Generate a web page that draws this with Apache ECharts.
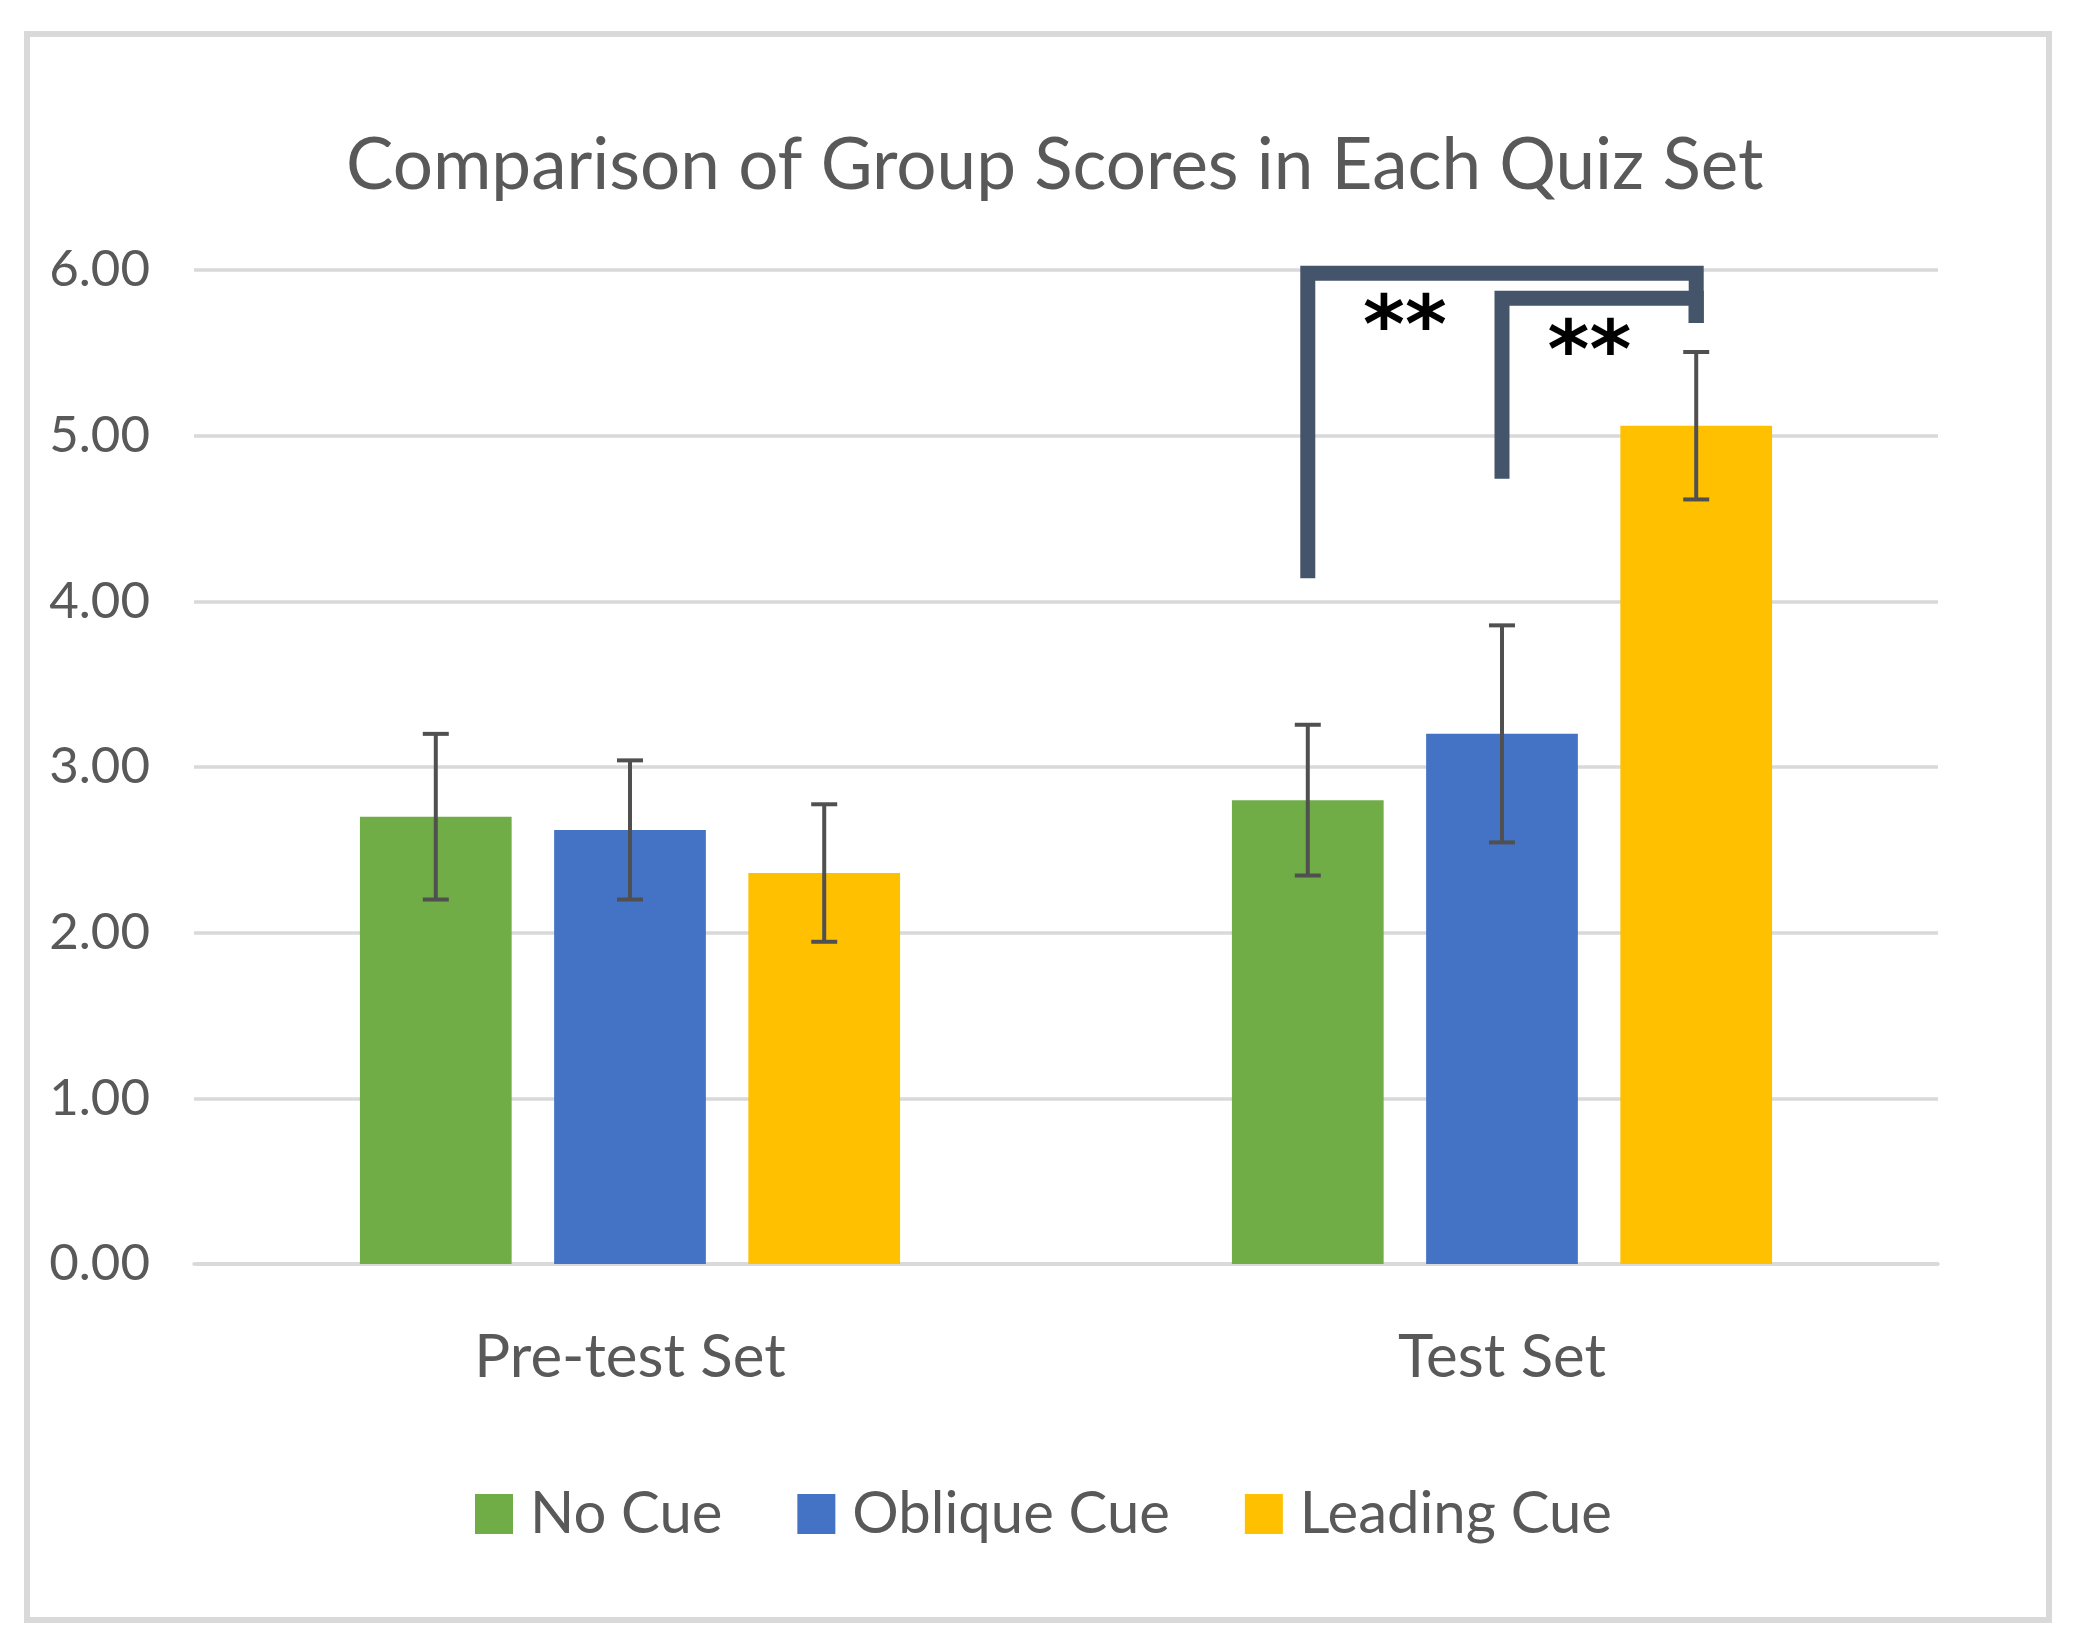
<!DOCTYPE html>
<html>
<head>
<meta charset="utf-8">
<script src="https://cdn.jsdelivr.net/npm/echarts@6/dist/echarts.min.js"></script>
<style>
html,body{margin:0;padding:0;background:#fff;}
#chart{width:2073px;height:1650px;}
</style>
</head>
<body>
<div id="chart"></div>
<script>
// ---- data ----
const categories = ['Pre-test Set', 'Test Set'];
const seriesNames = ['No Cue', 'Oblique Cue', 'Leading Cue'];
const noCue = [2.70, 2.80];
const obliqueCue = [2.62, 3.20];
const leadingCue = [2.36, 5.06];
const noCueErr = [0.50, 0.455];
const obliqueCueErr = [0.42, 0.655];
const leadingCueErr = [0.415, 0.445];
const yMin = 0, yMax = 6, yStep = 1;
// significance brackets (test set): series indices, bracket top value, leg end values, label position
const bracketCategory = [1, 1];
const bracketFrom = [0, 1];
const bracketTo = [2, 2];
const bracketTop = [5.98, 5.83];
const bracketFromEnd = [4.14, 4.74];
const bracketToEnd = [5.68, 5.68];
const bracketLabel = ['**', '**'];
const bracketLabelPos = [0.5, 1.45];
const bracketLabelValue = [5.63, 5.48];

// ---- style ----
const colors = ['#70AD47', '#4472C4', '#FFC000'];
const FONT = 'Lato';
const TEXT = '#595959';
const BAR_W = 0.174, BAR_GAP = 0.28;

function offsetFor(i, band) { return (i - 1) * BAR_W * (1 + BAR_GAP) * band; }

const values = [noCue, obliqueCue, leadingCue];
const errs = [noCueErr, obliqueCueErr, leadingCueErr];

const barSeries = seriesNames.map((n, i) => ({
  name: n, type: 'bar', data: values[i],
  barWidth: (BAR_W * 100) + '%', barGap: (BAR_GAP * 100) + '%',
  itemStyle: { color: colors[i] }, z: 2
}));

const errSeries = seriesNames.map((n, i) => ({
  name: n + ' error', type: 'custom', z: 3, clip: false,
  data: categories.map((c, k) => [k, values[i][k] - errs[i][k], values[i][k] + errs[i][k]]),
  encode: { x: 0, y: [1, 2] },
  renderItem: function (params, api) {
    const band = api.size([1, 0])[0];
    const lo = api.coord([api.value(0), api.value(1)]);
    const hi = api.coord([api.value(0), api.value(2)]);
    const x = lo[0] + offsetFor(i, band);
    const cap = 13;
    const st = { stroke: '#505050', lineWidth: 4 };
    return { type: 'group', children: [
      { type: 'line', shape: { x1: x, y1: lo[1], x2: x, y2: hi[1] }, style: st },
      { type: 'line', shape: { x1: x - cap, y1: lo[1], x2: x + cap, y2: lo[1] }, style: st },
      { type: 'line', shape: { x1: x - cap, y1: hi[1], x2: x + cap, y2: hi[1] }, style: st }
    ]};
  }
}));

const bracketSeries = {
  name: 'significance', type: 'custom', z: 4, clip: false,
  data: bracketFrom.map((f, k) => [bracketCategory[k], bracketTop[k], f, bracketTo[k], bracketFromEnd[k], bracketToEnd[k], bracketLabelPos[k], bracketLabelValue[k]]),
  encode: { x: 0, y: 1 },
  renderItem: function (params, api) {
    const band = api.size([1, 0])[0];
    const cat = api.value(0);
    const cx = api.coord([cat, 0])[0];
    const xf = cx + offsetFor(api.value(2), band);
    const xt = cx + offsetFor(api.value(3), band);
    const yTop = api.coord([cat, api.value(1)])[1];
    const yF = api.coord([cat, api.value(4)])[1];
    const yT = api.coord([cat, api.value(5)])[1];
    const lx = cx + offsetFor(api.value(6), band);
    const ly = api.coord([cat, api.value(7)])[1];
    return { type: 'group', children: [
      { type: 'polyline', shape: { points: [[xf, yF], [xf, yTop], [xt, yTop], [xt, yT]] },
        style: { stroke: '#44546A', lineWidth: 15, fill: null, lineJoin: 'miter', lineCap: 'butt' } },
      { type: 'text', x: lx, y: ly, style: { text: bracketLabel[params.dataIndex], fill: '#000',
        font: 'bold 80px "DejaVu Sans"', align: 'center', verticalAlign: 'middle' } }
    ]};
  }
};

const chart = echarts.init(document.getElementById('chart'), null, { renderer: 'canvas' });
chart.setOption({
  backgroundColor: '#fff',
  animation: false,
  color: colors,
  title: {
    text: 'Comparison of Group Scores in Each Quiz Set',
    left: 346, top: 131, padding: 0,
    textStyle: { fontFamily: FONT, fontSize: 71, fontWeight: 'normal', color: TEXT }
  },
  legend: {
    data: seriesNames, left: 475, top: 1485, padding: 0, icon: 'rect',
    itemWidth: 38, itemHeight: 40, itemGap: 75,
    textStyle: { fontFamily: FONT, fontSize: 58, lineHeight: 40, color: TEXT, padding: [0, 0, 0, 12] }
  },
  grid: { left: 194, right: 135, top: 270, bottom: 386, containLabel: false },
  xAxis: {
    type: 'category', data: categories,
    axisLine: { show: true, lineStyle: { color: '#d9d9d9', width: 3.5 } },
    axisTick: { show: false },
    axisLabel: { fontFamily: FONT, fontSize: 60, color: TEXT, margin: 64 }
  },
  yAxis: {
    type: 'value', min: yMin, max: yMax, interval: yStep,
    axisLine: { show: false }, axisTick: { show: false },
    splitLine: { lineStyle: { color: '#d9d9d9', width: 3.5 } },
    axisLabel: { fontFamily: FONT, fontSize: 51, color: TEXT, margin: 44, formatter: v => v.toFixed(2) }
  },
  graphic: [{
    type: 'rect', silent: true, z: -10,
    shape: { x: 27, y: 34, width: 2022, height: 1586 },
    style: { fill: null, stroke: '#d9d9d9', lineWidth: 6 }
  }],
  series: [...barSeries, ...errSeries, bracketSeries]
});
</script>
</body>
</html>
